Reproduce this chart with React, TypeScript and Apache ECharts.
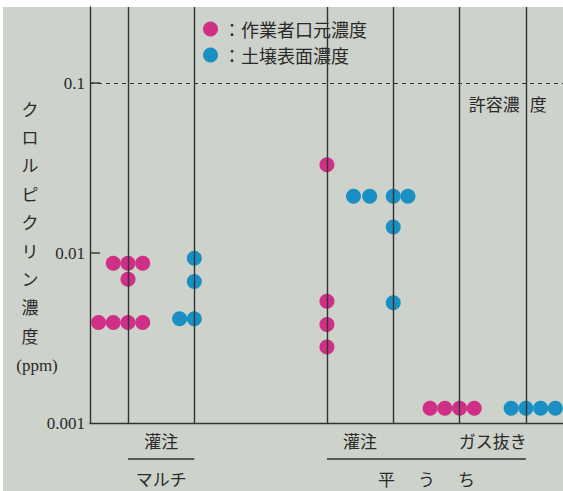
import React, { useEffect, useRef } from 'react';
import * as echarts from 'echarts';

// ---- data ----
const seriesNames = ['作業者口元濃度', '土壌表面濃度'];
const seriesColors = ['#cf2f87', '#1a8fc4'];

// vertical reference lines (one per measurement column)
const columnPositions = [0, 1, 3, 4, 5, 6];

// worker mouth concentration (magenta): column, horizontal offset (in dot steps), value (ppm)
const workerColumn = [0, 0, 0, 0, 0, 0, 0, 0, 3, 3, 3, 3, 5, 5, 5, 5];
const workerOffset = [-1, 0, 1, 0, -2, -1, 0, 1, 0, 0, 0, 0, -2, -1, 0, 1];
const workerValue = [
  0.0087, 0.0087, 0.0087, 0.007, 0.0039, 0.0039, 0.0039, 0.0039,
  0.033, 0.0052, 0.0038, 0.0028,
  0.00122, 0.00122, 0.00122, 0.00122,
];

// soil surface concentration (cyan)
const soilColumn = [1, 1, 1, 1, 4, 4, 4, 4, 4, 4, 6, 6, 6, 6];
const soilOffset = [0, 0, -1, 0, -2.7, -1.6, 0, 1, 0, 0, -1, 0, 1, 2];
const soilValue = [
  0.0093, 0.0068, 0.0041, 0.0041,
  0.0216, 0.0216, 0.0216, 0.0216, 0.0142, 0.0051,
  0.00122, 0.00122, 0.00122, 0.00122,
];

const dotStep = 0.222;
const thresholdValue = 0.1;
const thresholdLabel = ['許容濃', '度'];
const yTickValues = [0.01, 0.1];

// x-axis labels
const level1Labels = ['灌注', '灌注', 'ガス抜き'];
const level1Centers = [0.5, 3.5, 5.5];
const level2Labels = ['マルチ', '平うち'];
const level2Spans = [
  [0, 1],
  [3, 6],
];

const yTitleChars = ['ク', 'ロ', 'ル', 'ピ', 'ク', 'リ', 'ン', '濃', '度'];
const yUnit = '(ppm)';

const yMin = 0.001;
const yMax = 0.28;
const xMin = -0.573;
const xMax = 6.56;

const LINE = '#2f3331';
const TEXT = '#2a2a2a';
const SERIF = "'Liberation Serif', 'DejaVu Serif', serif";
const JP = "'Noto Sans CJK JP', 'Noto Sans CJK SC', sans-serif";

function buildPoints(cols: number[], offs: number[], vals: number[]) {
  return vals.map((v, i) => [cols[i] + offs[i] * dotStep, v]);
}

export default function App() {
  const ref = useRef<HTMLDivElement>(null);

  useEffect(() => {
    if (!ref.current) return;
    const chart = echarts.init(ref.current, undefined, { renderer: 'svg' });

    const isPow10 = (v: number) => {
      const l = Math.log10(v);
      return Math.abs(l - Math.round(l)) < 1e-6;
    };

    chart.setOption({
      animation: false,
      backgroundColor: 'transparent',
      grid: { left: 90, right: 0, top: 7, bottom: 68, containLabel: false },
      legend: {
        orient: 'vertical',
        left: 198,
        top: 15,
        icon: 'circle',
        itemWidth: 15,
        itemHeight: 15,
        itemGap: 8,
        data: seriesNames,
        formatter: (name: string) => '：' + name,
        textStyle: { fontSize: 18, color: TEXT, fontFamily: JP },
        selectedMode: false,
      },
      xAxis: {
        type: 'value',
        min: xMin,
        max: xMax,
        axisLine: { show: true, onZero: false, lineStyle: { color: LINE, width: 1.4 } },
        axisTick: { show: false },
        axisLabel: { show: false },
        splitLine: { show: false },
      },
      yAxis: {
        type: 'log',
        logBase: 10,
        min: yMin,
        max: yMax,
        position: 'left',
        axisLine: { show: true, onZero: false, lineStyle: { color: LINE, width: 1.4 } },
        axisTick: { show: false },
        axisLabel: {
          margin: 5,
          fontSize: 17,
          fontFamily: SERIF,
          color: TEXT,
          showMaxLabel: false,
          formatter: (v: number) => (isPow10(v) ? String(Number(v.toPrecision(1))) : ''),
        },
        splitLine: { show: false },
      },
      series: [
        {
          type: 'line',
          name: '_lines',
          data: [],
          z: 1,
          silent: true,
          markLine: {
            silent: true,
            symbol: ['none', 'none'],
            label: { show: false },
            data: [
              ...columnPositions.map((x) => ({
                xAxis: x,
                lineStyle: { type: 'solid', color: LINE, width: 1.4 },
              })),
              {
                yAxis: thresholdValue,
                lineStyle: { type: [4, 4], color: LINE, width: 1.2 },
              },
            ],
          },
        },
        {
          type: 'scatter',
          name: seriesNames[0],
          symbol: 'circle',
          symbolSize: 15,
          z: 3,
          itemStyle: { color: seriesColors[0], opacity: 1 },
          data: buildPoints(workerColumn, workerOffset, workerValue),
        },
        {
          type: 'scatter',
          name: seriesNames[1],
          symbol: 'circle',
          symbolSize: 15,
          z: 3,
          itemStyle: { color: seriesColors[1], opacity: 1 },
          data: buildPoints(soilColumn, soilOffset, soilValue),
        },
      ],
    });

    const px = (x: number, y: number) => chart.convertToPixel({ gridIndex: 0 }, [x, y]) as number[];
    const base = px(xMin, yMin);
    const baseY = base[1];
    const axisX = base[0];
    const thrY = px(0, thresholdValue)[1];
    const col6X = px(columnPositions[columnPositions.length - 1], yMin)[0];

    const graphics: any[] = [];
    // inside ticks on the y axis
    yTickValues.forEach((v) => {
      const ty = px(xMin, v)[1];
      graphics.push({
        type: 'line',
        z: 10,
        shape: { x1: axisX, y1: ty, x2: axisX + 10, y2: ty },
        style: { stroke: LINE, lineWidth: 1.4 },
      });
    });
    level1Labels.forEach((t, i) => {
      const x = px(level1Centers[i], yMin)[0];
      graphics.push({
        type: 'text',
        x,
        y: baseY + 17,
        style: {
          text: t,
          fontSize: 17,
          fontFamily: JP,
          fill: TEXT,
          align: 'center',
          verticalAlign: 'middle',
        },
      });
    });
    level2Labels.forEach((t, i) => {
      const [a, b] = level2Spans[i];
      const xa = px(a, yMin)[0];
      const xb = px(b, yMin)[0];
      graphics.push({
        type: 'line',
        shape: { x1: xa, y1: baseY + 36, x2: xb, y2: baseY + 36 },
        style: { stroke: LINE, lineWidth: 1.4 },
      });
      const cx = (xa + xb) / 2;
      const chars = t.split('');
      const spacing = chars.length > 2 && b - a > 1.5 ? 40 : 17;
      chars.forEach((c, k) => {
        graphics.push({
          type: 'text',
          x: cx + (k - (chars.length - 1) / 2) * spacing,
          y: baseY + 55,
          style: {
            text: c,
            fontSize: 17,
            fontFamily: JP,
            fill: TEXT,
            align: 'center',
            verticalAlign: 'middle',
          },
        });
      });
    });
    // threshold label
    graphics.push({
      type: 'text',
      x: col6X - 6,
      y: thrY + 20,
      style: { text: thresholdLabel[0], fontSize: 17, fontFamily: JP, fill: TEXT, align: 'right', verticalAlign: 'middle' },
    });
    graphics.push({
      type: 'text',
      x: col6X + 4,
      y: thrY + 20,
      style: { text: thresholdLabel[1], fontSize: 17, fontFamily: JP, fill: TEXT, align: 'left', verticalAlign: 'middle' },
    });
    // y-axis title, one character per line
    yTitleChars.forEach((c, k) => {
      graphics.push({
        type: 'text',
        x: 30,
        y: 108 + k * 28.4,
        style: { text: c, fontSize: 17, fontFamily: JP, fill: TEXT, align: 'center', verticalAlign: 'middle' },
      });
    });
    graphics.push({
      type: 'text',
      x: 37,
      y: 365,
      style: { text: yUnit, fontSize: 17, fontFamily: SERIF, fill: TEXT, align: 'center', verticalAlign: 'middle' },
    });

    chart.setOption({ graphic: graphics });

    return () => chart.dispose();
  }, []);

  return (
    <div style={{ position: 'fixed', left: 0, top: 0, width: 563, height: 491, background: '#ffffff' }}>
      <div style={{ position: 'absolute', left: 3, top: 7, right: 0, bottom: 0, background: '#cdd2cb' }} />
      <div ref={ref} style={{ position: 'absolute', left: 0, top: 0, width: 563, height: 491 }} />
    </div>
  );
}
